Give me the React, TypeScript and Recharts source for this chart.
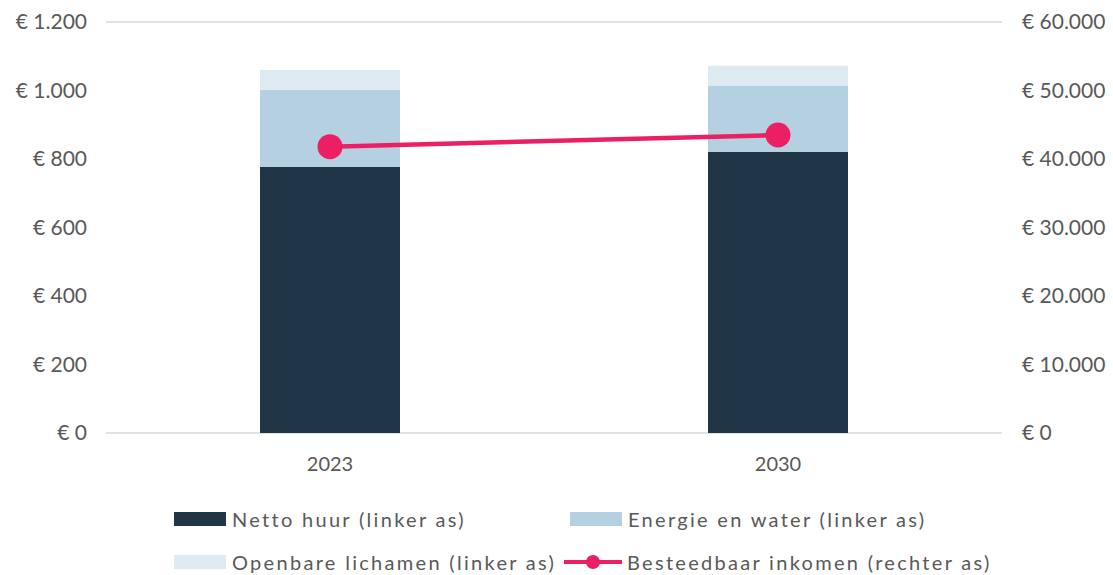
import React from 'react';
import {
  ComposedChart,
  Bar,
  Line,
  XAxis,
  YAxis,
  CartesianGrid,
  Legend,
} from 'recharts';

const years = ['2023', '2030'];
const nettoHuur = [777, 821];
const energieWater = [225, 192];
const openbareLichamen = [58, 59];
const besteedbaarInkomen = [41800, 43500];

const leftTicks = [0, 200, 400, 600, 800, 1000, 1200];
const rightTicks = [0, 10000, 20000, 30000, 40000, 50000, 60000];

const data = years.map((year, i) => ({
  year,
  netto: nettoHuur[i],
  energie: energieWater[i],
  openbaar: openbareLichamen[i],
  inkomen: besteedbaarInkomen[i],
}));

const FONT = 'Lato, "Open Sans", sans-serif';
const TEXT = '#595959';
const PINK = '#ec1f64';

const euro = (v: number) =>
  '€ ' + String(v).replace(/\B(?=(\d{3})+(?!\d))/g, '.');

const Swatch = ({ color }: { color: string }) => (
  <span style={{ display: 'inline-block', width: 52, height: 14, background: color, marginRight: 6 }} />
);

const LineIcon = () => (
  <svg width={58} height={20} style={{ marginRight: 5 }}>
    <line x1={0} y1={10} x2={58} y2={10} stroke={PINK} strokeWidth={4} />
    <circle cx={29} cy={10} r={7} fill={PINK} />
  </svg>
);

const itemStyle: React.CSSProperties = {
  position: 'absolute',
  display: 'flex',
  alignItems: 'center',
  whiteSpace: 'nowrap',
};

// legend laid out like the Excel original: two rows, two columns
const ChartLegend = () => (
  <div
    style={{
      position: 'relative',
      height: 97,
      fontFamily: FONT,
      fontSize: 20,
      letterSpacing: 2.3,
      color: TEXT,
    }}
  >
    <div style={{ ...itemStyle, left: 174, top: 29 }}>
      <Swatch color="#203647" />
      Netto huur (linker as)
    </div>
    <div style={{ ...itemStyle, left: 570, top: 29 }}>
      <Swatch color="#b5d0e1" />
      Energie en water (linker as)
    </div>
    <div style={{ ...itemStyle, left: 174, top: 72 }}>
      <Swatch color="#deeaf1" />
      Openbare lichamen (linker as)
    </div>
    <div style={{ ...itemStyle, left: 564, top: 72 }}>
      <LineIcon />
      Besteedbaar inkomen (rechter as)
    </div>
  </div>
);

const App: React.FC = () => {
  return (
    <div style={{ position: 'absolute', left: 0, top: 0, background: '#fff' }}>
      <ComposedChart
        width={1113}
        height={575}
        data={data}
        margin={{ top: 22, right: 0, bottom: 0, left: 0 }}
        barCategoryGap={0}
      >
        <CartesianGrid vertical={false} stroke="#d9d9d9" strokeWidth={1.5} />
        <XAxis
          dataKey="year"
          axisLine={false}
          tickLine={false}
          tickSize={0}
          tickMargin={24}
          height={45}
          tick={{ fill: TEXT, fontSize: 20, fontFamily: FONT }}
        />
        <YAxis
          yAxisId="left"
          domain={[0, 1200]}
          ticks={leftTicks}
          tickFormatter={euro}
          axisLine={false}
          tickLine={false}
          tickSize={0}
          tickMargin={19}
          width={106}
          tick={{ fill: TEXT, fontSize: 21, fontFamily: FONT }}
        />
        <YAxis
          yAxisId="right"
          orientation="right"
          domain={[0, 60000]}
          ticks={rightTicks}
          tickFormatter={euro}
          axisLine={false}
          tickLine={false}
          tickSize={0}
          tickMargin={20}
          width={111}
          tick={{ fill: TEXT, fontSize: 21, fontFamily: FONT, textAnchor: 'start' }}
        />
        <Legend verticalAlign="bottom" height={97} content={() => <ChartLegend />} />
        <Bar yAxisId="left" dataKey="netto" name="Netto huur (linker as)" stackId="a" fill="#203647" barSize={140} isAnimationActive={false} />
        <Bar yAxisId="left" dataKey="energie" name="Energie en water (linker as)" stackId="a" fill="#b5d0e1" barSize={140} isAnimationActive={false} />
        <Bar yAxisId="left" dataKey="openbaar" name="Openbare lichamen (linker as)" stackId="a" fill="#deeaf1" barSize={140} isAnimationActive={false} />
        <Line
          yAxisId="right"
          dataKey="inkomen"
          name="Besteedbaar inkomen (rechter as)"
          stroke={PINK}
          strokeWidth={4.5}
          dot={{ r: 12.5, fill: PINK, stroke: PINK, strokeWidth: 0 }}
          activeDot={false}
          isAnimationActive={false}
        />
      </ComposedChart>
    </div>
  );
};

export default App;
